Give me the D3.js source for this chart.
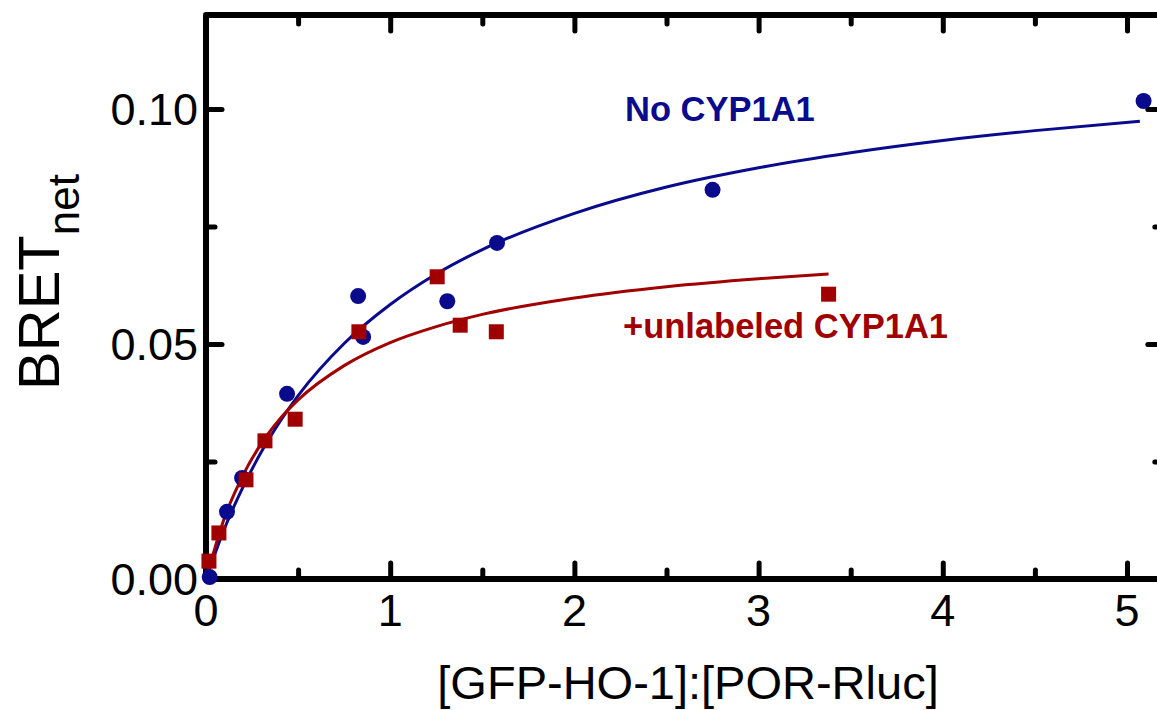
<!DOCTYPE html>
<html>
<head>
<meta charset="utf-8">
<script src="https://cdn.jsdelivr.net/npm/d3@7"></script>
<style>
  html, body { margin: 0; padding: 0; background: #fff; }
  svg { display: block; font-family: "Liberation Sans", Arial, sans-serif; }
</style>
</head>
<body>
<svg id="chart" width="1157" height="710"></svg>
<script>
// ---- Data ----
const noCypX = [0.02, 0.114, 0.196, 0.44, 0.826, 0.853, 1.31, 1.58, 2.75, 5.09];
const noCypY = [0.0004, 0.0143, 0.0215, 0.0394, 0.0602, 0.0515, 0.0591, 0.0715, 0.0828, 0.1017];

const unlX = [0.016, 0.07, 0.217, 0.32, 0.484, 0.83, 1.255, 1.38, 1.576, 3.38];
const unlY = [0.0038, 0.0098, 0.0211, 0.0294, 0.034, 0.0526, 0.0643, 0.054, 0.0526, 0.0606];

// fitted curves, points
const fitNoX = [0, 0.1, 0.2, 0.3, 0.4, 0.5, 0.75, 1.0, 1.25, 1.5, 2.0, 2.5, 3.0, 3.5, 4.0, 4.5, 5.07];
const fitNoY = [0, 0.0107, 0.0195, 0.0270, 0.0334, 0.0390, 0.0501, 0.0584, 0.0649, 0.0701, 0.0778, 0.0834, 0.0875, 0.0907, 0.0933, 0.0954, 0.0974];

const fitUnX = [0, 0.1, 0.2, 0.3, 0.4, 0.5, 0.75, 1.0, 1.25, 1.5, 2.0, 2.5, 3.0, 3.38];
const fitUnY = [0, 0.0130, 0.0220, 0.0288, 0.0340, 0.0381, 0.0454, 0.0503, 0.0537, 0.0563, 0.0598, 0.0622, 0.0639, 0.0649];

const xMajor = [0, 1, 2, 3, 4, 5];
const xMinor = [0.5, 1.5, 2.5, 3.5, 4.5];
const yMajor = [0, 0.05, 0.10];
const yMinor = [0.025, 0.075];
const yTickLabels = ["0.00", "0.05", "0.10"];
const seriesLabels = ["No CYP1A1", "+unlabeled CYP1A1"];
const xTitle = "[GFP-HO-1]:[POR-Rluc]";

// ---- Layout ----
const svg = d3.select("#chart");
const L = 206, T = 15, B = 579;
const x = d3.scaleLinear().domain([0, 5.2]).range([L, L + 184.2 * 5.2]);
const y = d3.scaleLinear().domain([0, 0.12]).range([B, T]);
const R = x(5.2);

const blue = "#0a0a8c";
const red = "#a00000";

// ---- Frame ----
svg.append("path")
  .attr("d", `M${L},${B} L${L},${T} L${R},${T} L${R},${B} Z`)
  .attr("fill", "none").attr("stroke", "#000").attr("stroke-width", 6)
  .attr("stroke-linejoin", "round");

// ---- Ticks via d3 axes ----
function styleTicks(g) {
  g.select(".domain").remove();
  g.selectAll(".tick line").attr("stroke", "#000").attr("stroke-width", 5).attr("stroke-linecap", "round");
  g.selectAll(".tick text").remove();
}
svg.append("g").attr("transform", `translate(0,${B})`)
  .call(d3.axisTop(x).tickValues(xMajor).tickSize(16)).call(styleTicks);
svg.append("g").attr("transform", `translate(0,${B})`)
  .call(d3.axisTop(x).tickValues(xMinor).tickSize(9)).call(styleTicks);
svg.append("g").attr("transform", `translate(0,${T})`)
  .call(d3.axisBottom(x).tickValues(xMajor).tickSize(16)).call(styleTicks);
svg.append("g").attr("transform", `translate(0,${T})`)
  .call(d3.axisBottom(x).tickValues(xMinor).tickSize(9)).call(styleTicks);
svg.append("g").attr("transform", `translate(${L},0)`)
  .call(d3.axisRight(y).tickValues(yMajor).tickSize(16)).call(styleTicks);
svg.append("g").attr("transform", `translate(${L},0)`)
  .call(d3.axisRight(y).tickValues(yMinor).tickSize(9)).call(styleTicks);
svg.append("g").attr("transform", `translate(${R},0)`)
  .call(d3.axisLeft(y).tickValues(yMajor).tickSize(16)).call(styleTicks);
svg.append("g").attr("transform", `translate(${R},0)`)
  .call(d3.axisLeft(y).tickValues(yMinor).tickSize(9)).call(styleTicks);

// ---- Tick labels ----
svg.append("g").selectAll("text").data(xMajor).join("text")
  .attr("x", d => x(d)).attr("y", 626)
  .attr("text-anchor", "middle").attr("font-size", 45).attr("fill", "#000")
  .text(d => String(d));
svg.append("g").selectAll("text").data(yMajor).join("text")
  .attr("x", 198).attr("y", d => y(d) + 16)
  .attr("text-anchor", "end").attr("font-size", 45).attr("fill", "#000")
  .text((d, i) => yTickLabels[i]);

// ---- Axis titles ----
svg.append("text").attr("x", 688).attr("y", 699)
  .attr("text-anchor", "middle").attr("font-size", 47).attr("fill", "#000")
  .text(xTitle);
const yt = svg.append("text").attr("transform", "translate(59,282) rotate(-90)")
  .attr("text-anchor", "middle").attr("font-size", 58).attr("fill", "#000");
yt.append("tspan").text("BRET");
yt.append("tspan").attr("font-size", 44).attr("dy", 20).text("net");

// ---- Curves ----
const line = d3.line().x(d => x(d[0])).y(d => y(d[1])).curve(d3.curveMonotoneX);
svg.append("path").datum(fitNoX.map((v, i) => [v, fitNoY[i]]))
  .attr("d", line).attr("fill", "none").attr("stroke", blue).attr("stroke-width", 3);
svg.append("path").datum(fitUnX.map((v, i) => [v, fitUnY[i]]))
  .attr("d", line).attr("fill", "none").attr("stroke", red).attr("stroke-width", 3);

// ---- Markers ----
svg.append("g").selectAll("circle").data(noCypX.map((v, i) => [v, noCypY[i]])).join("circle")
  .attr("cx", d => x(d[0])).attr("cy", d => y(d[1])).attr("r", 8).attr("fill", blue);
const s = 15;
svg.append("g").selectAll("rect").data(unlX.map((v, i) => [v, unlY[i]])).join("rect")
  .attr("x", d => x(d[0]) - s / 2).attr("y", d => y(d[1]) - s / 2)
  .attr("width", s).attr("height", s).attr("fill", red);

// ---- Series labels ----
svg.append("text").attr("x", 625).attr("y", 121)
  .attr("font-size", 34.5).attr("font-weight", "bold").attr("fill", blue)
  .text(seriesLabels[0]);
svg.append("text").attr("x", 623).attr("y", 338)
  .attr("font-size", 34.5).attr("font-weight", "bold").attr("fill", red)
  .text(seriesLabels[1]);
</script>
</body>
</html>
